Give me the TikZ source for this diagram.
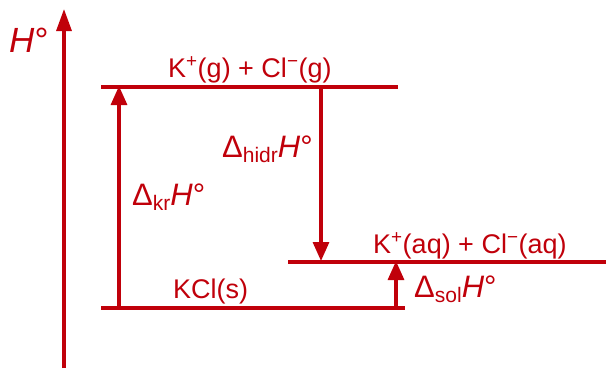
\documentclass[tikz,border=0pt]{standalone}
\usepackage{fontspec}
\setmainfont{Liberation Sans}
\usetikzlibrary{arrows.meta}
\definecolor{dred}{RGB}{192,0,10}
\newcommand{\lblfont}{\fontsize{27}{32}\selectfont}
\newcommand{\dfont}{\fontsize{31}{37}\selectfont}
\newcommand{\subx}[1]{\raisebox{-5pt}{\fontsize{21}{25}\selectfont #1}}
\begin{document}
\begin{tikzpicture}[x=1pt,y=-1pt,
  level/.style={line width=3.2pt,dred},
  enarrow/.style={line width=3.2pt,dred,-{Triangle[length=19pt,width=16pt]}},
  lbl/.style={inner sep=0pt,anchor=base west,text=dred,font=\lblfont},
  dlbl/.style={inner sep=0pt,anchor=base west,text=dred,font=\dfont}]
\useasboundingbox (0,0) rectangle (606,368);
% axis
\coordinate (axb) at (64,368);
\coordinate (axt) at (64,9);
\draw[enarrow,-{Triangle[length=22pt,width=15pt]}] (axb) -- (axt);
\node[inner sep=0pt,anchor=base west,text=dred,font=\fontsize{35}{42}\selectfont] (hax) at (9,52) {\textit{H}°};
% levels
\coordinate (g1) at (101,87); \coordinate (g2) at (398,87);
\coordinate (a1) at (288,262); \coordinate (a2) at (606,262);
\coordinate (s1) at (101,308); \coordinate (s2) at (405,308);
\draw[level] (g1) -- (g2);
\draw[level] (a1) -- (a2);
\draw[level] (s1) -- (s2);
% arrows
\coordinate (krb) at (119,308); \coordinate (krt) at (119,86);
\coordinate (hit) at (321,87); \coordinate (hib) at (321,261);
\coordinate (sob) at (396,308); \coordinate (sot) at (396,261);
\draw[enarrow] (krb) -- (krt);
\draw[enarrow] (hit) -- (hib);
\draw[enarrow] (sob) -- (sot);
% labels
\node[lbl] (lg) at (168,77) {K\textsuperscript{+}(g) + Cl\textsuperscript{−}(g)};
\node[lbl] (la) at (373,253) {K\textsuperscript{+}(aq) + Cl\textsuperscript{−}(aq)};
\node[lbl] (ls) at (173,298) {KCl(s)};
\node[dlbl] (dkr) at (132,205) {Δ\subx{kr}\textit{H}°};
\node[dlbl] (dhi) at (222,157) {Δ\subx{hidr}\textit{H}°};
\node[dlbl] (dso) at (414,297) {Δ\subx{sol}\textit{H}°};
\end{tikzpicture}
\end{document}
